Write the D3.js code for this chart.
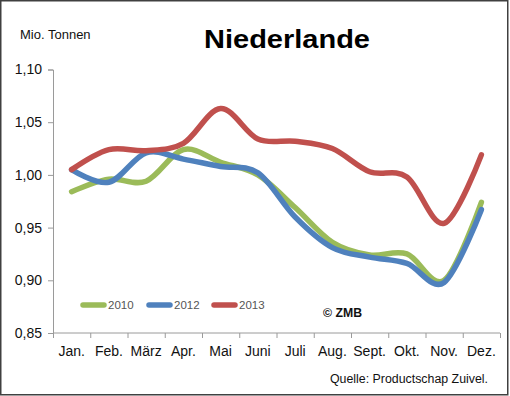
<!DOCTYPE html>
<html>
<head>
<meta charset="utf-8">
<script src="https://cdn.jsdelivr.net/npm/d3@7"></script>
<style>
  body { margin: 0; background: #fff; }
  svg text { font-family: "Liberation Sans", Arial, sans-serif; }
</style>
</head>
<body>
<div id="chart"></div>
<script>
// chart data
const MONTHS = ["Jan.", "Feb.", "März", "Apr.", "Mai", "Juni", "Juli", "Aug.", "Sept.", "Okt.", "Nov.", "Dez."];
const Y_TICKS = [0.85, 0.90, 0.95, 1.00, 1.05, 1.10];
const VALUES_2010 = [0.984, 0.996, 0.994, 1.024, 1.012, 1.000, 0.969, 0.936, 0.924, 0.925, 0.900, 0.974];
const VALUES_2012 = [1.005, 0.993, 1.021, 1.015, 1.008, 1.002, 0.960, 0.931, 0.922, 0.916, 0.898, 0.967];
const VALUES_2013 = [1.005, 1.024, 1.023, 1.030, 1.063, 1.034, 1.032, 1.025, 1.003, 0.998, 0.954, 1.019];
const SERIES_NAMES = ["2010", "2012", "2013"];

const COLORS = {"2010": "#9bbb59", "2012": "#4f81bd", "2013": "#c0504d"};

const FRAME_WIDTH = 510;
const FRAME_HEIGHT = 396;
const MARGINS = {left: 53, right: 10, top: 69.5, bottom: 63};
const VIS_WIDTH = FRAME_WIDTH - MARGINS.left - MARGINS.right;
const VIS_HEIGHT = FRAME_HEIGHT - MARGINS.top - MARGINS.bottom;

const SVG = d3.select("#chart")
              .append("svg")
                .attr("width", FRAME_WIDTH)
                .attr("height", FRAME_HEIGHT);

// outer border
SVG.append("rect")
    .attr("x", 0.75).attr("y", 0.75)
    .attr("width", FRAME_WIDTH - 3).attr("height", FRAME_HEIGHT - 2)
    .attr("fill", "#fff")
    .attr("stroke", "#404040")
    .attr("stroke-width", 1.5);

const X_SCALE = d3.scaleBand()
                  .domain(MONTHS)
                  .range([0, VIS_WIDTH]);

const Y_SCALE = d3.scaleLinear()
                  .domain([0.85, 1.10])
                  .range([VIS_HEIGHT, 0]);

const G = SVG.append("g")
             .attr("transform", "translate(" + MARGINS.left + "," + MARGINS.top + ")");

// y axis
const yAxis = G.append("g")
               .call(d3.axisLeft(Y_SCALE)
                       .tickValues(Y_TICKS)
                       .tickSize(5)
                       .tickPadding(6)
                       .tickFormat((d) => d3.format(".2f")(d).replace(".", ",")));
yAxis.selectAll("path, line").attr("stroke", "#9a9a9a");
yAxis.selectAll("text").attr("font-size", "14px").attr("fill", "#111")
     .attr("font-family", "Liberation Sans, Arial, sans-serif");

// x axis, ticks between the categories
const xAxis = G.append("g")
               .attr("transform", "translate(0," + VIS_HEIGHT + ")")
               .call(d3.axisBottom(X_SCALE).tickSize(0).tickPadding(13));
xAxis.select("path").attr("stroke", "#9a9a9a").attr("d", "M0.5,0H" + VIS_WIDTH);
xAxis.selectAll("text").attr("font-size", "14px").attr("fill", "#111")
     .attr("font-family", "Liberation Sans, Arial, sans-serif");
xAxis.selectAll(".sep")
     .data(d3.range(MONTHS.length + 1))
     .enter()
     .append("line")
       .attr("x1", (i) => i * X_SCALE.step() + 0.5)
       .attr("x2", (i) => i * X_SCALE.step() + 0.5)
       .attr("y1", 0).attr("y2", 5)
       .attr("stroke", "#9a9a9a");

// lines
const SERIES = [VALUES_2010, VALUES_2012, VALUES_2013];
const line = d3.line()
               .x((d, i) => X_SCALE(MONTHS[i]) + X_SCALE.bandwidth() / 2)
               .y((d) => Y_SCALE(d))
               .curve(d3.curveCatmullRom.alpha(0));

SERIES.forEach((vals, k) => {
  G.append("path")
    .datum(vals)
    .attr("d", line)
    .attr("fill", "none")
    .attr("stroke", COLORS[SERIES_NAMES[k]])
    .attr("stroke-width", 5.5)
    .attr("stroke-linecap", "round")
    .attr("stroke-linejoin", "round");
});

// legend
const LEGEND_X = [80, 146, 211];
SERIES_NAMES.forEach((name, k) => {
  SVG.append("line")
      .attr("x1", LEGEND_X[k] + 3).attr("x2", LEGEND_X[k] + 24)
      .attr("y1", 305).attr("y2", 305)
      .attr("stroke", COLORS[name])
      .attr("stroke-width", 5.5)
      .attr("stroke-linecap", "round");
  SVG.append("text")
      .attr("x", LEGEND_X[k] + 28).attr("y", 309)
      .attr("font-size", "11.5px")
      .attr("fill", "#555")
      .text(name);
});

// titles and notes
SVG.append("text")
    .attr("x", 204).attr("y", 48)
    .attr("font-size", "26px")
    .attr("font-weight", "bold")
    .attr("fill", "#000")
    .attr("textLength", 166)
    .attr("lengthAdjust", "spacingAndGlyphs")
    .text("Niederlande");

SVG.append("text")
    .attr("x", 20).attr("y", 39)
    .attr("font-size", "13px")
    .attr("fill", "#111")
    .text("Mio. Tonnen");

SVG.append("text")
    .attr("x", 323).attr("y", 317)
    .attr("font-size", "12.5px")
    .attr("font-weight", "bold")
    .attr("fill", "#111")
    .attr("textLength", 39)
    .attr("lengthAdjust", "spacingAndGlyphs")
    .text("© ZMB");

SVG.append("text")
    .attr("x", 330).attr("y", 383)
    .attr("font-size", "12.3px")
    .attr("fill", "#111")
    .attr("font-family", "Open Sans, sans-serif")
    .attr("textLength", 158)
    .attr("lengthAdjust", "spacingAndGlyphs")
    .text("Quelle:  Productschap Zuivel.");
</script>
</body>
</html>
